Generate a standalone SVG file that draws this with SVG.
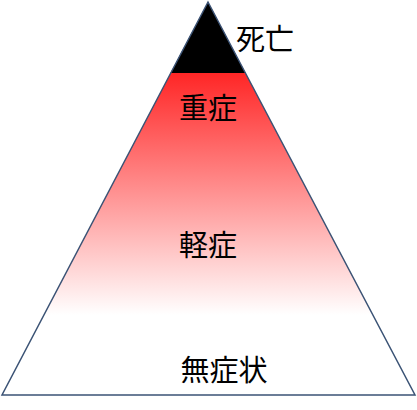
<svg xmlns="http://www.w3.org/2000/svg" width="417" height="410" viewBox="0 0 417 410">
<defs>
<linearGradient id="g" gradientUnits="userSpaceOnUse" x1="0" y1="73" x2="0" y2="315">
<stop offset="0" stop-color="#FF2626"/>
<stop offset="1" stop-color="#FFFFFF"/>
</linearGradient>
</defs>
<style>
.t{font-family:"Noto Sans CJK JP","Noto Sans CJK SC",sans-serif;font-size:29px;fill:#000}
</style>
<rect width="417" height="410" fill="#fff"/>
<g id="pyramid">
<polygon points="208,2 415,395 2,395" fill="url(#g)"/>
<polygon points="208,2 245.5,73 170.5,73" fill="#000"/>
<polygon points="208,2 415,395 2,395" fill="none" stroke="#3B5375" stroke-width="1.5"/>
</g>
<g id="labels">
<text class="t" x="265" y="50" text-anchor="middle">死亡</text>
<text class="t" x="208" y="119" text-anchor="middle">重症</text>
<text class="t" x="208" y="256" text-anchor="middle">軽症</text>
<text class="t" x="224" y="381" text-anchor="middle">無症状</text>
</g>
</svg>
